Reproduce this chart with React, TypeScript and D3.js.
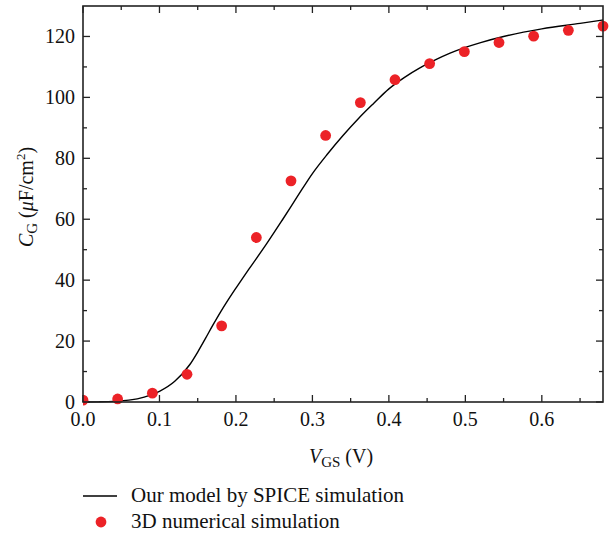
import React from "react";
import * as d3 from "d3";

// Model curve (SPICE simulation)
const curveVgs = [0, 0.02, 0.04, 0.06, 0.08, 0.1, 0.12, 0.14, 0.15, 0.16, 0.17, 0.18, 0.19, 0.2, 0.21, 0.22, 0.24, 0.26, 0.28, 0.3, 0.32, 0.34, 0.36, 0.38, 0.4, 0.42, 0.44, 0.46, 0.48, 0.5, 0.52, 0.55, 0.6, 0.65, 0.68];
const curveCg = [0, 0.05, 0.2, 0.6, 1.6, 3.5, 6.8, 12.4, 16.4, 20.8, 25.3, 29.6, 33.6, 37.4, 41.1, 44.7, 51.9, 59.5, 67.3, 75, 81.5, 87.5, 93, 98, 102.8, 106.5, 109.6, 112.2, 114.5, 116.4, 118, 120, 122.5, 124.3, 125.4];

// 3D numerical simulation points
const dotVgs = [0, 0.0453, 0.0907, 0.136, 0.1813, 0.2267, 0.272, 0.3173, 0.3627, 0.408, 0.4533, 0.4987, 0.544, 0.5893, 0.6347, 0.68];
const dotCg = [0.6, 1, 2.9, 9.1, 25, 54, 72.6, 87.5, 98.3, 105.8, 111.1, 115, 118, 120.1, 122, 123.4];

const xMajorTicks = [0, 0.1, 0.2, 0.3, 0.4, 0.5, 0.6];
const xMinorTicks = [0.05, 0.15, 0.25, 0.35, 0.45, 0.55, 0.65];
const yMajorTicks = [0, 20, 40, 60, 80, 100, 120];
const yMinorTicks = [10, 30, 50, 70, 90, 110];

const legendLabels = ["Our model by SPICE simulation", "3D numerical simulation"];

const W = 610, H = 541;
const L = 83, R = 603, T = 6, B = 402;
const FONT = "'Liberation Serif', 'Times New Roman', serif";
const RED = "#ec2227";
const AX = "#222";

export default function App() {
  const x = d3.scaleLinear().domain([0, 0.68]).range([L, R]);
  const y = d3.scaleLinear().domain([0, 130]).range([B, T]);
  const line = d3.line<number>().x((d, i) => x(curveVgs[i])).y((d) => y(d)).curve(d3.curveMonotoneX);
  const majorLen = 7, minorLen = 4;

  return (
    <svg width={W} height={H} style={{ position: "absolute", left: 0, top: 0, background: "#fff" }} fontFamily={FONT}>
      <rect x={0} y={0} width={W} height={H} fill="#fff" />
      <defs>
        <clipPath id="plot"><rect x={L} y={T - 10} width={R - L + 10} height={B - T + 20} /></clipPath>
      </defs>
      {/* ticks */}
      <g stroke={AX} strokeWidth={1.3}>
        {xMajorTicks.map((t) => (
          <g key={"xm" + t}>
            <line x1={x(t)} x2={x(t)} y1={B} y2={B - majorLen} />
            <line x1={x(t)} x2={x(t)} y1={T} y2={T + majorLen} />
          </g>
        ))}
        {xMinorTicks.map((t) => (
          <g key={"xn" + t}>
            <line x1={x(t)} x2={x(t)} y1={B} y2={B - minorLen} />
            <line x1={x(t)} x2={x(t)} y1={T} y2={T + minorLen} />
          </g>
        ))}
        {yMajorTicks.map((t) => (
          <g key={"ym" + t}>
            <line x1={L} x2={L + majorLen} y1={y(t)} y2={y(t)} />
            <line x1={R} x2={R - majorLen} y1={y(t)} y2={y(t)} />
          </g>
        ))}
        {yMinorTicks.map((t) => (
          <g key={"yn" + t}>
            <line x1={L} x2={L + minorLen} y1={y(t)} y2={y(t)} />
            <line x1={R} x2={R - minorLen} y1={y(t)} y2={y(t)} />
          </g>
        ))}
      </g>
      {/* curve */}
      <path d={line(curveCg) || ""} fill="none" stroke="#000" strokeWidth={1.4} />
      {/* dots */}
      <g clipPath="url(#plot)">
        {dotCg.map((v, i) => (
          <circle key={i} cx={x(dotVgs[i])} cy={y(v)} r={5.4} fill={RED} />
        ))}
      </g>
      {/* frame */}
      <rect x={L} y={T} width={R - L} height={B - T} fill="none" stroke={AX} strokeWidth={1.6} />
      {/* tick labels */}
      <g fontSize={20} fill="#111">
        {xMajorTicks.map((t) => (
          <text key={"xl" + t} x={x(t)} y={426} textAnchor="middle">{t.toFixed(1)}</text>
        ))}
        {yMajorTicks.map((t) => (
          <text key={"yl" + t} x={75} y={y(t) + 6.5} textAnchor="end">{t}</text>
        ))}
      </g>
      {/* x label */}
      <text x={341} y={463} textAnchor="middle" fontSize={20} fill="#111">
        <tspan fontStyle="italic">V</tspan>
        <tspan fontSize={15} dy={4}>GS</tspan>
        <tspan dy={-4}> (V)</tspan>
      </text>
      {/* y label */}
      <text transform={`translate(33,197) rotate(-90)`} textAnchor="middle" fontSize={20} fill="#111">
        <tspan fontStyle="italic">C</tspan>
        <tspan fontSize={15} dy={4}>G</tspan>
        <tspan dy={-4}> (</tspan>
        <tspan fontStyle="italic">μ</tspan>
        <tspan>F/cm</tspan>
        <tspan fontSize={13} dy={-8}>2</tspan>
        <tspan dy={8}>)</tspan>
      </text>
      {/* legend */}
      <line x1={83} x2={117} y1={496} y2={496} stroke="#000" strokeWidth={1.4} />
      <text x={131} y={502} fontSize={21} fill="#111">{legendLabels[0]}</text>
      <circle cx={101} cy={522} r={5.4} fill={RED} />
      <text x={131} y={528} fontSize={21} fill="#111">{legendLabels[1]}</text>
    </svg>
  );
}
